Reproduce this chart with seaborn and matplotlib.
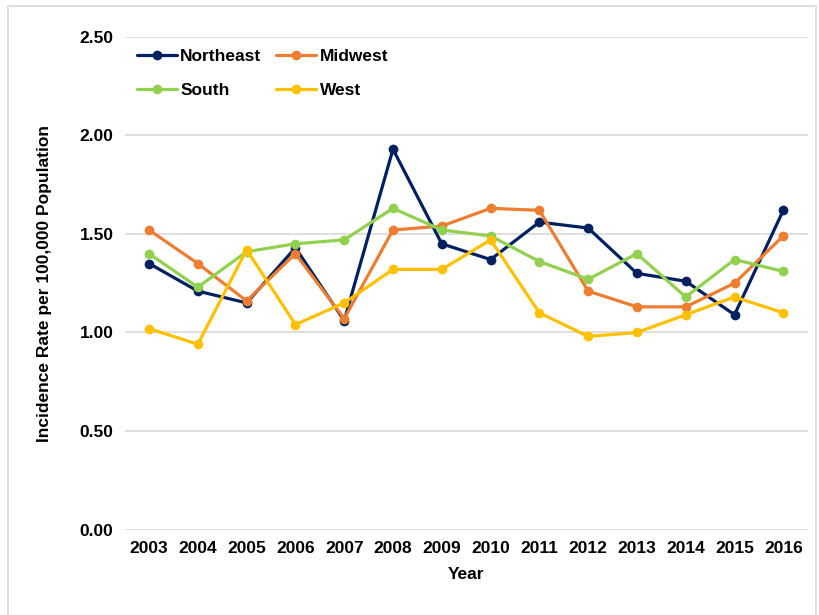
import matplotlib
matplotlib.use("Agg")
import matplotlib.pyplot as plt
import seaborn as sns
import pandas as pd
from matplotlib.patches import Rectangle

years = [str(y) for y in range(2003, 2017)]
northeast = [1.35, 1.21, 1.15, 1.43, 1.06, 1.93, 1.45, 1.37, 1.56, 1.53, 1.30, 1.26, 1.09, 1.62]
midwest = [1.52, 1.35, 1.16, 1.40, 1.07, 1.52, 1.54, 1.63, 1.62, 1.21, 1.13, 1.13, 1.25, 1.49]
south = [1.40, 1.23, 1.41, 1.45, 1.47, 1.63, 1.52, 1.49, 1.36, 1.27, 1.40, 1.18, 1.37, 1.31]
west = [1.02, 0.94, 1.42, 1.04, 1.15, 1.32, 1.32, 1.47, 1.10, 0.98, 1.00, 1.09, 1.18, 1.10]

regions = ['Northeast', 'Midwest', 'South', 'West']
colors = ['#002060', '#ED7D31', '#92D050', '#FFC000']

df = pd.DataFrame({'Year': years, 'Northeast': northeast, 'Midwest': midwest,
                   'South': south, 'West': west})
long_df = df.melt(id_vars='Year', var_name='Region', value_name='Rate')

sns.set_style("white")
plt.rcParams['font.family'] = ['Liberation Sans', 'DejaVu Sans']
plt.rcParams['font.weight'] = 'bold'
plt.rcParams['text.color'] = 'black'
plt.rcParams['axes.labelcolor'] = 'black'
plt.rcParams['xtick.color'] = 'black'
plt.rcParams['ytick.color'] = 'black'

fig = plt.figure(figsize=(8.2, 6.15), dpi=100)
ax = fig.add_axes([0.152, 0.139, 0.833, 0.801])

sns.lineplot(data=long_df, x='Year', y='Rate', hue='Region', hue_order=regions,
             palette=colors, marker='o', markersize=7, markeredgewidth=0,
             linewidth=2.3, sort=False, ax=ax)

ax.set_xlim(-0.5, len(years) - 0.5)
ax.set_ylim(0, 2.5)
ax.set_yticks([0, 0.5, 1.0, 1.5, 2.0, 2.5])
ax.set_yticklabels(['%.2f' % v for v in [0, 0.5, 1.0, 1.5, 2.0, 2.5]])
ax.yaxis.grid(True, color='#d9d9d9', linewidth=1.2)
ax.set_axisbelow(True)
for s in ax.spines.values():
    s.set_visible(False)
ax.tick_params(axis='both', length=0, labelsize=12.5, pad=8, colors='black')
for lbl in ax.get_xticklabels() + ax.get_yticklabels():
    lbl.set_fontweight('bold')

ax.set_xlabel('Year', fontsize=12.5, fontweight='bold', labelpad=8)
ax.set_ylabel('Incidence Rate per 100,000 Population', fontsize=12.5,
              fontweight='bold', labelpad=20)

# matplotlib fills legend columns first, so reorder to get rows NE/MW, S/W
handles, labels = ax.get_legend_handles_labels()
order = [0, 2, 1, 3]
leg = ax.legend([handles[i] for i in order], [labels[i] for i in order],
                loc='upper left', bbox_to_anchor=(0.0, 1.0), ncol=2, frameon=False,
                fontsize=12.5, handlelength=2.3, handletextpad=0.2, columnspacing=0.85,
                labelspacing=1.05, borderaxespad=0.3)
for t in leg.get_texts():
    t.set_fontweight('bold')
    t.set_color('black')

fig.patches.append(Rectangle((0.01, -0.01), 0.985, 1.0, transform=fig.transFigure,
                             fill=False, edgecolor='#d9d9d9', linewidth=1.2))

fig.savefig('out.png', dpi=100)
